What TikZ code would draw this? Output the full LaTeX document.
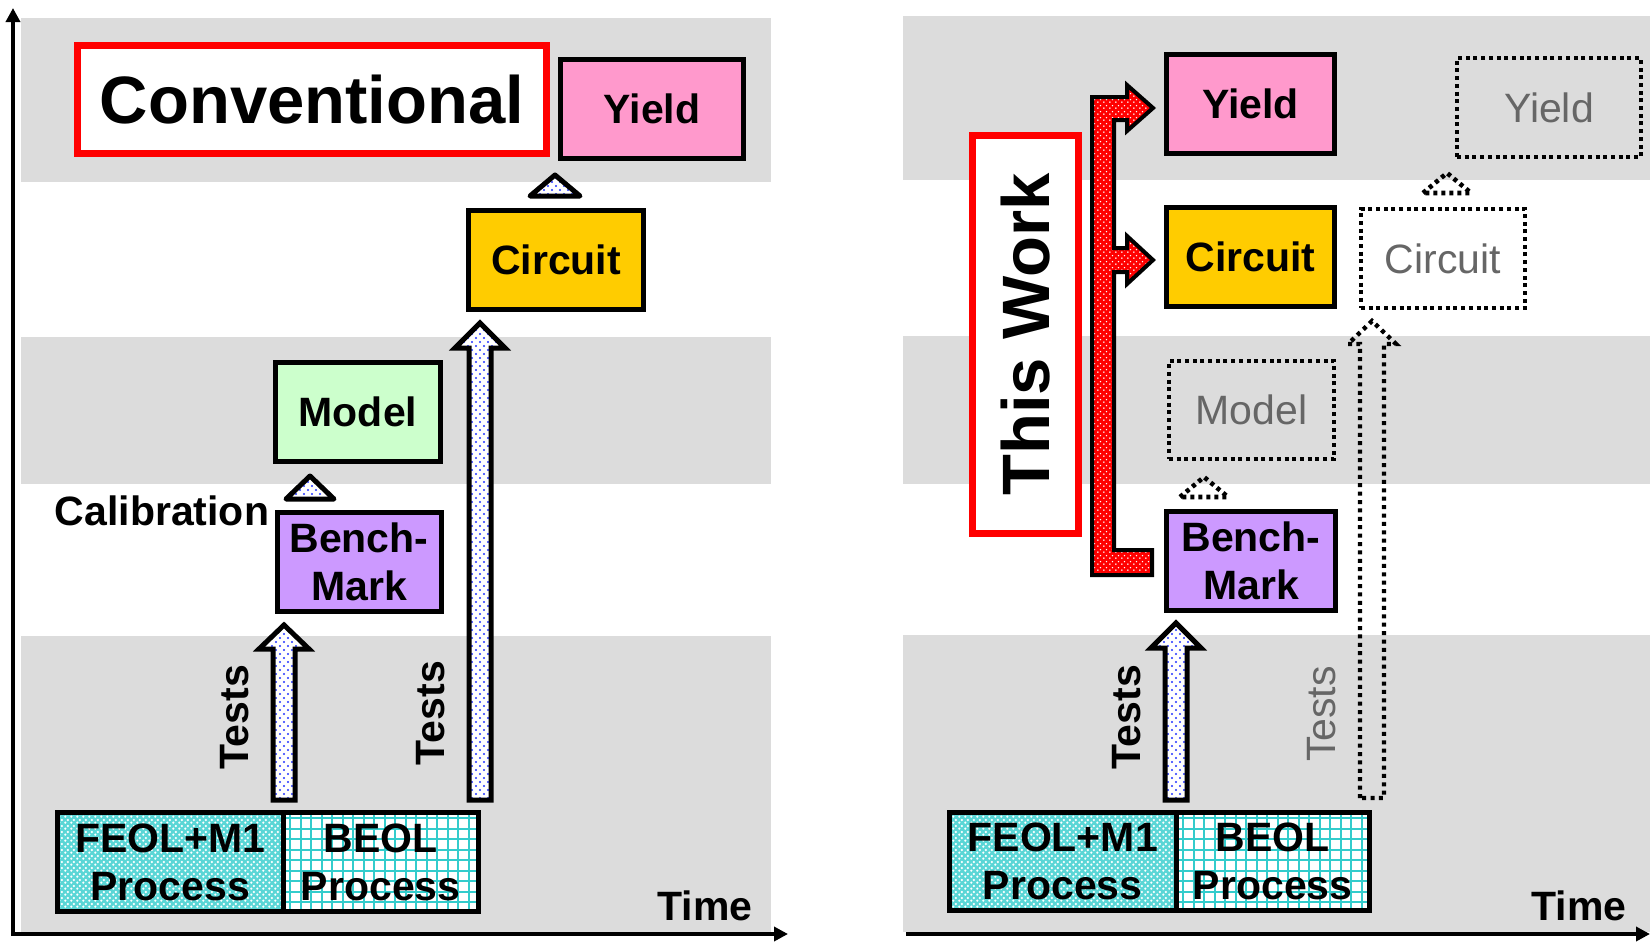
\documentclass[tikz,border=0pt]{standalone}
\usepackage{fontspec}
\setmainfont{Liberation Sans}
\usetikzlibrary{patterns.meta,arrows.meta}

\definecolor{band}{HTML}{DCDCDC}
\definecolor{pinkbox}{HTML}{FF99CC}
\definecolor{yellowbox}{HTML}{FFCC00}
\definecolor{greenbox}{HTML}{CCFFCC}
\definecolor{purplebox}{HTML}{CC99FF}
\definecolor{procyan}{HTML}{33CCCC}
\definecolor{feolcyan}{HTML}{5AD6D6}
\definecolor{txtgray}{HTML}{666666}
\definecolor{dotblue}{HTML}{2233FF}

\newcommand\lblfont{\fontsize{20.5pt}{24pt}\selectfont\bfseries}
\newcommand\lblreg{\fontsize{20.5pt}{24pt}\selectfont}
\newcommand\hugelbl{\fontsize{33.5pt}{40pt}\selectfont\bfseries}

% staggered dots used inside the blue block arrows
\tikzdeclarepattern{
  name=bluedots,
  type=uncolored,
  bottom left={(-0.7pt,-0.7pt)},
  top right={(3.3pt,3.3pt)},
  tile size={(4pt,4pt)},
  code={
    \fill (0pt,0pt) circle [radius=0.6pt];
    \fill (2pt,2pt) circle [radius=0.6pt];
  }
}
% finer dots for the red branching arrow
\tikzdeclarepattern{
  name=finedots,
  type=uncolored,
  bottom left={(-0.5pt,-0.5pt)},
  top right={(2.5pt,2.5pt)},
  tile size={(3pt,3pt)},
  code={
    \fill (0pt,0pt) circle [radius=0.45pt];
    \fill (1.5pt,1.5pt) circle [radius=0.45pt];
  }
}
% lattice for the front-end process block
\tikzdeclarepattern{
  name=bigdots,
  type=uncolored,
  bottom left={(-0.75pt,-0.75pt)},
  top right={(2.25pt,2.25pt)},
  tile size={(3pt,3pt)},
  code={
    \fill (0pt,0pt) circle [radius=0.72pt];
    \fill (1.5pt,1.5pt) circle [radius=0.72pt];
  }
}

\tikzset{
  box/.style={draw=black, line width=2.5pt, inner sep=0pt, font=\lblfont, align=center},
  redframe/.style={draw=red, line width=3.5pt, fill=white, inner sep=0pt, font=\hugelbl},
  dotbox/.style={draw=black, line width=2.2pt, dash pattern=on 2pt off 1.85pt,
    inner sep=0pt, font=\lblreg, text=txtgray, align=center},
  tri/.style={draw=black, line width=2.5pt, line join=round,
    preaction={fill=white}, pattern=bluedots, pattern color=dotblue},
  dottri/.style={draw=black, line width=2.3pt, dash pattern=on 2pt off 2pt, line join=round},
  blockarrow/.style={draw=black, line width=2.5pt, line join=miter,
    preaction={fill=white}, pattern=bluedots, pattern color=dotblue},
  dotarrow/.style={draw=black, line width=2.2pt, dash pattern=on 2pt off 2.2pt},
  redarrow/.style={draw=black, line width=2pt, line join=miter,
    preaction={fill=red}, pattern=finedots, pattern color=white},
  feol/.style={draw=black, line width=2.5pt, inner sep=0pt, font=\lblfont, align=center,
    preaction={fill=feolcyan}, pattern=bigdots, pattern color=white},
  beol/.style={draw=black, line width=2.5pt, inner sep=0pt, font=\lblfont, align=center},
  gridline/.style={draw=procyan, line width=1pt},
  axis/.style={line width=2pt, {Triangle[length=7pt,width=7pt]}-{Triangle[length=7pt,width=7pt]}},
  axisr/.style={line width=2pt, -{Triangle[length=7pt,width=7pt]}},
}

% upward block arrow: style, centre x, bottom y, neck y, apex y, shaft half width, head half width
\newcommand\upblock[7]{%
  \draw[#1] (#2-#6,#3) -- (#2-#6,#4) -- (#2-#7,#4) -- (#2,#5) -- (#2+#7,#4)
    -- (#2+#6,#4) -- (#2+#6,#3) -- cycle;}

\begin{document}
\begin{tikzpicture}[x=0.5pt,y=-0.5pt]
\useasboundingbox (0,0) rectangle (1650,942);
\fill[white] (0,0) rectangle (1650,942);

% ---------- background bands ----------
\fill[band] (21,18) rectangle (771,182);
\fill[band] (21,337) rectangle (771,484);
\fill[band] (21,636) rectangle (771,932);
\fill[band] (903,16) rectangle (1650,180);
\fill[band] (903,336) rectangle (1650,484);
\fill[band] (903,635) rectangle (1650,932);

% ---------- axes ----------
\coordinate (ytip) at (13,8);
\coordinate (orgL) at (13,934);
\coordinate (xtipL) at (788,934);
\coordinate (orgR) at (906,934);
\coordinate (xtipR) at (1650,934);
\draw[axis] (ytip) -- (orgL) -- (xtipL);
\draw[axisr] (orgR) -- (xtipR);

% ================= conventional flow =================
% back-end grid fill
\begin{scope}
  \clip (283,812.5) rectangle (478.5,911.5);
  \fill[white] (283,812.5) rectangle (478.5,911.5);
  \foreach \x in {290,300.5,...,480} \draw[gridline] (\x,805) -- (\x,915);
  \foreach \y in {818,828.5,...,915} \draw[gridline] (280,\y) -- (480,\y);
\end{scope}
\node[feol, minimum width=112.75pt, minimum height=49.5pt] (feolL) at (170.25,862) {FEOL+M1\\Process};
\node[beol, minimum width=97.75pt, minimum height=49.5pt] (beolL) at (380.75,862) {BEOL\\Process};

\node[box, fill=pinkbox, minimum width=91.5pt, minimum height=49.5pt] (yieldL) at (652,109) {Yield};
\node[box, fill=yellowbox, minimum width=87.5pt, minimum height=49.5pt] (circL) at (556,260) {Circuit};
\node[box, fill=greenbox, minimum width=82.5pt, minimum height=49.5pt] (modelL) at (358,412) {Model};
\node[box, fill=purplebox, minimum width=82pt, minimum height=49.5pt] (benchL) at (359,562) {Bench-\\Mark};
\node[redframe, minimum width=234.5pt, minimum height=54pt] (conv) at (312,99.5) {Conventional};
\node[font=\lblfont, inner sep=0pt] (calib) at (162,511) {Calibration};

% small arrowheads between levels
\draw[tri] (530,196) -- (555,175) -- (580,196) -- cycle;
\draw[tri] (286,499) -- (310,476) -- (334,499) -- cycle;

% test arrows
\upblock{blockarrow}{284}{800}{649}{625}{11}{25}
\upblock{blockarrow}{480}{800}{348}{323}{11}{25}
\node[font=\lblfont, rotate=90, inner sep=0pt] (testL1) at (235,717) {Tests};
\node[font=\lblfont, rotate=90, inner sep=0pt] (testL2) at (431,713) {Tests};

\node[font=\lblfont, inner sep=0pt] (timeL) at (705,906) {Time};

% ================= proposed flow =================
\begin{scope}
  \clip (1176,812.5) rectangle (1369.5,910.5);
  \fill[white] (1176,812.5) rectangle (1369.5,910.5);
  \foreach \x in {1183,1193.5,...,1372} \draw[gridline] (\x,805) -- (\x,915);
  \foreach \y in {818,828.5,...,915} \draw[gridline] (1170,\y) -- (1375,\y);
\end{scope}
\node[feol, minimum width=113.25pt, minimum height=49pt] (feolR) at (1062.75,861.5) {FEOL+M1\\Process};
\node[beol, minimum width=96.75pt, minimum height=49pt] (beolR) at (1272.75,861.5) {BEOL\\Process};

\node[box, fill=pinkbox, minimum width=84pt, minimum height=49.5pt] (yieldR) at (1250.5,104) {Yield};
\node[box, fill=yellowbox, minimum width=84pt, minimum height=49.5pt] (circR) at (1250.5,257) {Circuit};
\node[box, fill=purplebox, minimum width=84.5pt, minimum height=49.5pt] (benchR) at (1251,561) {Bench-\\Mark};

\node[dotbox, minimum width=82.5pt, minimum height=49pt] (modelD) at (1251.5,410) {Model};
\node[dotbox, minimum width=82pt, minimum height=49.5pt] (circD) at (1443,258.5) {Circuit};
\node[dotbox, minimum width=92pt, minimum height=49.5pt] (yieldD) at (1549,107.5) {Yield};

\node[redframe, rotate=90, minimum width=199pt, minimum height=53pt] (work) at (1025.5,334.5) {This Work};

% branching arrow from the benchmark to circuit and yield
\draw[redarrow] (1092,97) -- (1127,97) -- (1127,85) -- (1153,108) -- (1127,131) -- (1127,120)
  -- (1114,120) -- (1114,248) -- (1127,248) -- (1127,236) -- (1153,260) -- (1127,284)
  -- (1127,272) -- (1114,272) -- (1114,550) -- (1152,550) -- (1152,575) -- (1092,575) -- cycle;

% arrowheads of the skipped steps
\draw[dottri] (1180,497) -- (1204,477) -- (1228,497) -- cycle;
\draw[dottri] (1423,193) -- (1447,173) -- (1471,193) -- cycle;

% test arrows
\upblock{blockarrow}{1176}{800}{648}{623}{11}{25}
\upblock{dotarrow}{1372}{798}{344}{321}{12}{24}
\node[font=\lblfont, rotate=90, inner sep=0pt] (testR1) at (1127,717) {Tests};
\node[font=\lblreg, text=txtgray, rotate=90, inner sep=0pt] (testR2) at (1322,714) {Tests};

\node[font=\lblfont, inner sep=0pt] (timeR) at (1579,906) {Time};
\end{tikzpicture}
\end{document}
